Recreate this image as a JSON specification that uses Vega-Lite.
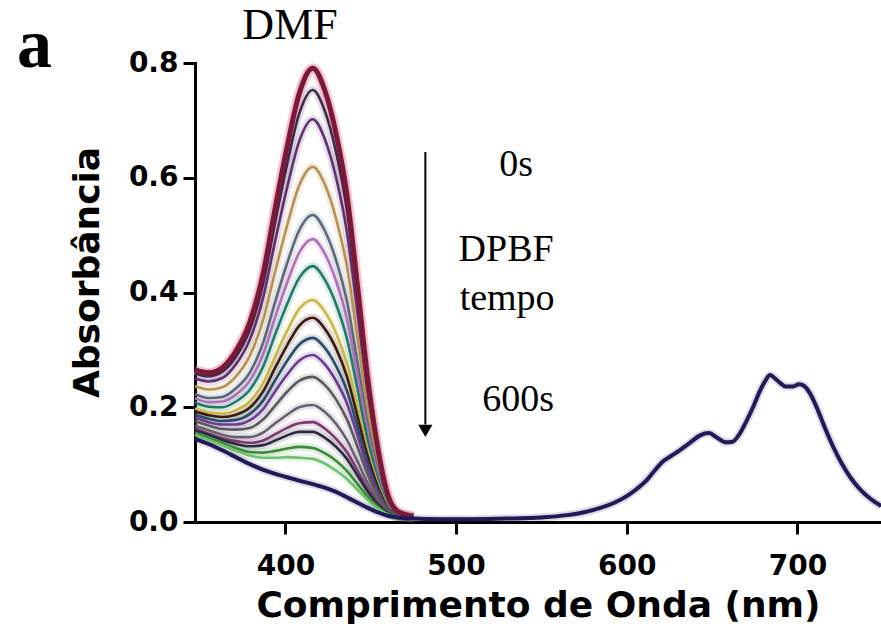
{
"$schema":"https://vega.github.io/schema/vega-lite/v6.json",
"width":686,"height":459,
"autosize":{"type":"none"},
"padding":{"left":195,"top":63,"right":0,"bottom":120},
"background":"white",
"config":{"view":{"stroke":null}},
"datasets":{
"spectra":[
{"s":"c1","nm":347,"A":0.265},{"s":"c1","nm":355,"A":0.260},{"s":"c1","nm":363,"A":0.269},{"s":"c1","nm":371,"A":0.298},{"s":"c1","nm":379,"A":0.347},{"s":"c1","nm":387,"A":0.434},{"s":"c1","nm":394,"A":0.547},{"s":"c1","nm":401,"A":0.654},{"s":"c1","nm":408,"A":0.746},{"s":"c1","nm":416,"A":0.791},{"s":"c1","nm":423,"A":0.753},{"s":"c1","nm":430,"A":0.672},{"s":"c1","nm":436,"A":0.571},{"s":"c1","nm":442,"A":0.417},{"s":"c1","nm":448,"A":0.255},{"s":"c1","nm":454,"A":0.131},{"s":"c1","nm":460,"A":0.047},{"s":"c1","nm":466,"A":0.018},{"s":"c1","nm":475,"A":0.010},
{"s":"c2","nm":347,"A":0.259},{"s":"c2","nm":355,"A":0.254},{"s":"c2","nm":363,"A":0.262},{"s":"c2","nm":371,"A":0.288},{"s":"c2","nm":379,"A":0.334},{"s":"c2","nm":387,"A":0.416},{"s":"c2","nm":394,"A":0.523},{"s":"c2","nm":401,"A":0.624},{"s":"c2","nm":408,"A":0.711},{"s":"c2","nm":416,"A":0.753},{"s":"c2","nm":423,"A":0.717},{"s":"c2","nm":430,"A":0.640},{"s":"c2","nm":436,"A":0.544},{"s":"c2","nm":442,"A":0.397},{"s":"c2","nm":448,"A":0.243},{"s":"c2","nm":454,"A":0.125},{"s":"c2","nm":460,"A":0.045},{"s":"c2","nm":466,"A":0.017},{"s":"c2","nm":475,"A":0.010},
{"s":"c3","nm":347,"A":0.250},{"s":"c3","nm":355,"A":0.245},{"s":"c3","nm":363,"A":0.251},{"s":"c3","nm":371,"A":0.275},{"s":"c3","nm":379,"A":0.317},{"s":"c3","nm":387,"A":0.392},{"s":"c3","nm":394,"A":0.490},{"s":"c3","nm":401,"A":0.583},{"s":"c3","nm":408,"A":0.663},{"s":"c3","nm":416,"A":0.702},{"s":"c3","nm":423,"A":0.668},{"s":"c3","nm":430,"A":0.596},{"s":"c3","nm":436,"A":0.506},{"s":"c3","nm":442,"A":0.370},{"s":"c3","nm":448,"A":0.227},{"s":"c3","nm":454,"A":0.117},{"s":"c3","nm":460,"A":0.043},{"s":"c3","nm":466,"A":0.017},{"s":"c3","nm":475,"A":0.010},
{"s":"c4","nm":347,"A":0.237},{"s":"c4","nm":355,"A":0.231},{"s":"c4","nm":363,"A":0.235},{"s":"c4","nm":371,"A":0.254},{"s":"c4","nm":379,"A":0.289},{"s":"c4","nm":387,"A":0.353},{"s":"c4","nm":394,"A":0.437},{"s":"c4","nm":401,"A":0.517},{"s":"c4","nm":408,"A":0.586},{"s":"c4","nm":416,"A":0.619},{"s":"c4","nm":423,"A":0.589},{"s":"c4","nm":430,"A":0.525},{"s":"c4","nm":436,"A":0.446},{"s":"c4","nm":442,"A":0.326},{"s":"c4","nm":448,"A":0.200},{"s":"c4","nm":454,"A":0.104},{"s":"c4","nm":460,"A":0.038},{"s":"c4","nm":466,"A":0.016},{"s":"c4","nm":475,"A":0.009},
{"s":"c5","nm":347,"A":0.223},{"s":"c5","nm":355,"A":0.216},{"s":"c5","nm":363,"A":0.218},{"s":"c5","nm":371,"A":0.233},{"s":"c5","nm":379,"A":0.260},{"s":"c5","nm":387,"A":0.313},{"s":"c5","nm":394,"A":0.384},{"s":"c5","nm":401,"A":0.451},{"s":"c5","nm":408,"A":0.508},{"s":"c5","nm":416,"A":0.535},{"s":"c5","nm":423,"A":0.508},{"s":"c5","nm":430,"A":0.453},{"s":"c5","nm":436,"A":0.385},{"s":"c5","nm":442,"A":0.282},{"s":"c5","nm":448,"A":0.174},{"s":"c5","nm":454,"A":0.091},{"s":"c5","nm":460,"A":0.034},{"s":"c5","nm":466,"A":0.014},{"s":"c5","nm":475,"A":0.009},
{"s":"c6","nm":347,"A":0.216},{"s":"c6","nm":355,"A":0.209},{"s":"c6","nm":363,"A":0.210},{"s":"c6","nm":371,"A":0.222},{"s":"c6","nm":379,"A":0.246},{"s":"c6","nm":387,"A":0.293},{"s":"c6","nm":394,"A":0.357},{"s":"c6","nm":401,"A":0.417},{"s":"c6","nm":408,"A":0.469},{"s":"c6","nm":416,"A":0.493},{"s":"c6","nm":423,"A":0.468},{"s":"c6","nm":430,"A":0.417},{"s":"c6","nm":436,"A":0.354},{"s":"c6","nm":442,"A":0.260},{"s":"c6","nm":448,"A":0.160},{"s":"c6","nm":454,"A":0.084},{"s":"c6","nm":460,"A":0.032},{"s":"c6","nm":466,"A":0.014},{"s":"c6","nm":475,"A":0.008},
{"s":"c7","nm":347,"A":0.208},{"s":"c7","nm":355,"A":0.201},{"s":"c7","nm":363,"A":0.200},{"s":"c7","nm":371,"A":0.210},{"s":"c7","nm":379,"A":0.230},{"s":"c7","nm":387,"A":0.271},{"s":"c7","nm":394,"A":0.327},{"s":"c7","nm":401,"A":0.380},{"s":"c7","nm":408,"A":0.425},{"s":"c7","nm":416,"A":0.446},{"s":"c7","nm":423,"A":0.423},{"s":"c7","nm":430,"A":0.377},{"s":"c7","nm":436,"A":0.320},{"s":"c7","nm":442,"A":0.235},{"s":"c7","nm":448,"A":0.146},{"s":"c7","nm":454,"A":0.077},{"s":"c7","nm":460,"A":0.030},{"s":"c7","nm":466,"A":0.013},{"s":"c7","nm":475,"A":0.008},
{"s":"c8","nm":347,"A":0.198},{"s":"c8","nm":355,"A":0.191},{"s":"c8","nm":363,"A":0.189},{"s":"c8","nm":371,"A":0.195},{"s":"c8","nm":379,"A":0.210},{"s":"c8","nm":387,"A":0.243},{"s":"c8","nm":394,"A":0.289},{"s":"c8","nm":401,"A":0.333},{"s":"c8","nm":408,"A":0.371},{"s":"c8","nm":416,"A":0.387},{"s":"c8","nm":423,"A":0.367},{"s":"c8","nm":430,"A":0.327},{"s":"c8","nm":436,"A":0.277},{"s":"c8","nm":442,"A":0.204},{"s":"c8","nm":448,"A":0.127},{"s":"c8","nm":454,"A":0.068},{"s":"c8","nm":460,"A":0.027},{"s":"c8","nm":466,"A":0.012},{"s":"c8","nm":475,"A":0.008},
{"s":"c9","nm":347,"A":0.193},{"s":"c9","nm":355,"A":0.186},{"s":"c9","nm":363,"A":0.183},{"s":"c9","nm":371,"A":0.187},{"s":"c9","nm":379,"A":0.199},{"s":"c9","nm":387,"A":0.228},{"s":"c9","nm":394,"A":0.269},{"s":"c9","nm":401,"A":0.308},{"s":"c9","nm":408,"A":0.342},{"s":"c9","nm":416,"A":0.356},{"s":"c9","nm":423,"A":0.337},{"s":"c9","nm":430,"A":0.300},{"s":"c9","nm":436,"A":0.254},{"s":"c9","nm":442,"A":0.187},{"s":"c9","nm":448,"A":0.117},{"s":"c9","nm":454,"A":0.063},{"s":"c9","nm":460,"A":0.025},{"s":"c9","nm":466,"A":0.012},{"s":"c9","nm":475,"A":0.008},
{"s":"c10","nm":347,"A":0.187},{"s":"c10","nm":355,"A":0.180},{"s":"c10","nm":363,"A":0.176},{"s":"c10","nm":371,"A":0.178},{"s":"c10","nm":379,"A":0.188},{"s":"c10","nm":387,"A":0.212},{"s":"c10","nm":394,"A":0.247},{"s":"c10","nm":401,"A":0.281},{"s":"c10","nm":408,"A":0.309},{"s":"c10","nm":416,"A":0.321},{"s":"c10","nm":423,"A":0.304},{"s":"c10","nm":430,"A":0.270},{"s":"c10","nm":436,"A":0.229},{"s":"c10","nm":442,"A":0.169},{"s":"c10","nm":448,"A":0.106},{"s":"c10","nm":454,"A":0.057},{"s":"c10","nm":460,"A":0.024},{"s":"c10","nm":466,"A":0.012},{"s":"c10","nm":475,"A":0.007},
{"s":"c11","nm":347,"A":0.182},{"s":"c11","nm":355,"A":0.174},{"s":"c11","nm":363,"A":0.170},{"s":"c11","nm":371,"A":0.170},{"s":"c11","nm":379,"A":0.177},{"s":"c11","nm":387,"A":0.197},{"s":"c11","nm":394,"A":0.228},{"s":"c11","nm":401,"A":0.257},{"s":"c11","nm":408,"A":0.281},{"s":"c11","nm":416,"A":0.291},{"s":"c11","nm":423,"A":0.275},{"s":"c11","nm":430,"A":0.244},{"s":"c11","nm":436,"A":0.207},{"s":"c11","nm":442,"A":0.153},{"s":"c11","nm":448,"A":0.096},{"s":"c11","nm":454,"A":0.052},{"s":"c11","nm":460,"A":0.022},{"s":"c11","nm":466,"A":0.011},{"s":"c11","nm":475,"A":0.007},
{"s":"c12","nm":347,"A":0.176},{"s":"c12","nm":355,"A":0.168},{"s":"c12","nm":363,"A":0.162},{"s":"c12","nm":371,"A":0.161},{"s":"c12","nm":379,"A":0.164},{"s":"c12","nm":387,"A":0.179},{"s":"c12","nm":394,"A":0.203},{"s":"c12","nm":401,"A":0.227},{"s":"c12","nm":408,"A":0.246},{"s":"c12","nm":416,"A":0.253},{"s":"c12","nm":423,"A":0.239},{"s":"c12","nm":430,"A":0.212},{"s":"c12","nm":436,"A":0.179},{"s":"c12","nm":442,"A":0.133},{"s":"c12","nm":448,"A":0.084},{"s":"c12","nm":454,"A":0.046},{"s":"c12","nm":460,"A":0.020},{"s":"c12","nm":466,"A":0.011},{"s":"c12","nm":475,"A":0.007},
{"s":"c13","nm":347,"A":0.168},{"s":"c13","nm":355,"A":0.160},{"s":"c13","nm":363,"A":0.152},{"s":"c13","nm":371,"A":0.148},{"s":"c13","nm":379,"A":0.148},{"s":"c13","nm":387,"A":0.156},{"s":"c13","nm":394,"A":0.172},{"s":"c13","nm":401,"A":0.187},{"s":"c13","nm":408,"A":0.200},{"s":"c13","nm":416,"A":0.204},{"s":"c13","nm":423,"A":0.192},{"s":"c13","nm":430,"A":0.170},{"s":"c13","nm":436,"A":0.143},{"s":"c13","nm":442,"A":0.107},{"s":"c13","nm":448,"A":0.069},{"s":"c13","nm":454,"A":0.039},{"s":"c13","nm":460,"A":0.018},{"s":"c13","nm":466,"A":0.010},{"s":"c13","nm":475,"A":0.007},
{"s":"c14","nm":347,"A":0.163},{"s":"c14","nm":355,"A":0.154},{"s":"c14","nm":363,"A":0.146},{"s":"c14","nm":371,"A":0.141},{"s":"c14","nm":379,"A":0.138},{"s":"c14","nm":387,"A":0.142},{"s":"c14","nm":394,"A":0.153},{"s":"c14","nm":401,"A":0.164},{"s":"c14","nm":408,"A":0.172},{"s":"c14","nm":416,"A":0.174},{"s":"c14","nm":423,"A":0.163},{"s":"c14","nm":430,"A":0.144},{"s":"c14","nm":436,"A":0.122},{"s":"c14","nm":442,"A":0.091},{"s":"c14","nm":448,"A":0.059},{"s":"c14","nm":454,"A":0.034},{"s":"c14","nm":460,"A":0.016},{"s":"c14","nm":466,"A":0.009},{"s":"c14","nm":475,"A":0.007},
{"s":"c15","nm":347,"A":0.160},{"s":"c15","nm":355,"A":0.152},{"s":"c15","nm":363,"A":0.143},{"s":"c15","nm":371,"A":0.136},{"s":"c15","nm":379,"A":0.132},{"s":"c15","nm":387,"A":0.134},{"s":"c15","nm":394,"A":0.142},{"s":"c15","nm":401,"A":0.151},{"s":"c15","nm":408,"A":0.157},{"s":"c15","nm":416,"A":0.157},{"s":"c15","nm":423,"A":0.147},{"s":"c15","nm":430,"A":0.130},{"s":"c15","nm":436,"A":0.110},{"s":"c15","nm":442,"A":0.082},{"s":"c15","nm":448,"A":0.054},{"s":"c15","nm":454,"A":0.031},{"s":"c15","nm":460,"A":0.016},{"s":"c15","nm":466,"A":0.009},{"s":"c15","nm":475,"A":0.007},
{"s":"c16","nm":347,"A":0.155},{"s":"c16","nm":355,"A":0.147},{"s":"c16","nm":363,"A":0.138},{"s":"c16","nm":371,"A":0.129},{"s":"c16","nm":379,"A":0.122},{"s":"c16","nm":387,"A":0.121},{"s":"c16","nm":394,"A":0.124},{"s":"c16","nm":401,"A":0.128},{"s":"c16","nm":408,"A":0.131},{"s":"c16","nm":416,"A":0.129},{"s":"c16","nm":423,"A":0.120},{"s":"c16","nm":430,"A":0.106},{"s":"c16","nm":436,"A":0.089},{"s":"c16","nm":442,"A":0.067},{"s":"c16","nm":448,"A":0.045},{"s":"c16","nm":454,"A":0.027},{"s":"c16","nm":460,"A":0.014},{"s":"c16","nm":466,"A":0.009},{"s":"c16","nm":475,"A":0.006},
{"s":"c17","nm":347,"A":0.152},{"s":"c17","nm":355,"A":0.143},{"s":"c17","nm":363,"A":0.134},{"s":"c17","nm":371,"A":0.124},{"s":"c17","nm":379,"A":0.116},{"s":"c17","nm":387,"A":0.112},{"s":"c17","nm":394,"A":0.112},{"s":"c17","nm":401,"A":0.113},{"s":"c17","nm":408,"A":0.112},{"s":"c17","nm":416,"A":0.110},{"s":"c17","nm":423,"A":0.102},{"s":"c17","nm":430,"A":0.089},{"s":"c17","nm":436,"A":0.075},{"s":"c17","nm":442,"A":0.057},{"s":"c17","nm":448,"A":0.039},{"s":"c17","nm":454,"A":0.024},{"s":"c17","nm":460,"A":0.013},{"s":"c17","nm":466,"A":0.009},{"s":"c17","nm":475,"A":0.006},
{"s":"c18","nm":347,"A":0.145},{"s":"c18","nm":355,"A":0.136},{"s":"c18","nm":363,"A":0.125},{"s":"c18","nm":371,"A":0.113},{"s":"c18","nm":379,"A":0.101},{"s":"c18","nm":387,"A":0.091},{"s":"c18","nm":394,"A":0.084},{"s":"c18","nm":401,"A":0.078},{"s":"c18","nm":408,"A":0.072},{"s":"c18","nm":416,"A":0.066},{"s":"c18","nm":423,"A":0.060},{"s":"c18","nm":430,"A":0.052},{"s":"c18","nm":436,"A":0.043},{"s":"c18","nm":442,"A":0.034},{"s":"c18","nm":448,"A":0.025},{"s":"c18","nm":454,"A":0.017},{"s":"c18","nm":460,"A":0.011},{"s":"c18","nm":466,"A":0.008},{"s":"c18","nm":475,"A":0.006},
{"s":"c18","nm":490,"A":0.005},{"s":"c18","nm":510,"A":0.005},{"s":"c18","nm":530,"A":0.006},{"s":"c18","nm":550,"A":0.008},{"s":"c18","nm":565,"A":0.012},{"s":"c18","nm":575,"A":0.017},{"s":"c18","nm":585,"A":0.025},{"s":"c18","nm":593,"A":0.034},{"s":"c18","nm":600,"A":0.045},{"s":"c18","nm":606,"A":0.058},{"s":"c18","nm":612,"A":0.074},{"s":"c18","nm":617,"A":0.092},{"s":"c18","nm":621,"A":0.105},{"s":"c18","nm":626,"A":0.115},{"s":"c18","nm":631,"A":0.125},{"s":"c18","nm":637,"A":0.138},{"s":"c18","nm":643,"A":0.151},{"s":"c18","nm":648,"A":0.155},{"s":"c18","nm":653,"A":0.147},{"s":"c18","nm":658,"A":0.139},{"s":"c18","nm":662,"A":0.140},{"s":"c18","nm":666,"A":0.153},{"s":"c18","nm":670,"A":0.175},{"s":"c18","nm":674,"A":0.200},{"s":"c18","nm":678,"A":0.228},{"s":"c18","nm":681,"A":0.245},{"s":"c18","nm":684,"A":0.256},{"s":"c18","nm":687,"A":0.250},{"s":"c18","nm":690,"A":0.242},{"s":"c18","nm":693,"A":0.236},{"s":"c18","nm":697,"A":0.236},{"s":"c18","nm":701,"A":0.240},{"s":"c18","nm":704,"A":0.237},{"s":"c18","nm":708,"A":0.221},{"s":"c18","nm":712,"A":0.195},{"s":"c18","nm":716,"A":0.165},{"s":"c18","nm":721,"A":0.131},{"s":"c18","nm":726,"A":0.102},{"s":"c18","nm":731,"A":0.078},{"s":"c18","nm":737,"A":0.056},{"s":"c18","nm":743,"A":0.040},{"s":"c18","nm":749,"A":0.028}
],
"labels":[
{"nm":535.2,"A":0.622,"t":"0s"},
{"nm":529.3,"A":0.474,"t":"DPBF"},
{"nm":529.9,"A":0.388,"t":"tempo"},
{"nm":536.3,"A":0.213,"t":"600s"}
],
"title":[{"nm":402.7,"A":0.864,"t":"DMF"}],
"panel":[{"nm":253,"A":0.83,"t":"a"}],
"arrow":[{"nm":482,"A":0.645,"A2":0.17}],
"head":[{"nm":482,"A":0.159}]
},
"encoding":{
"x":{"field":"nm","type":"quantitative","scale":{"domain":[347,749],"nice":false,"zero":false},
"axis":{"title":"Comprimento de Onda (nm)","values":[400,500,600,700],"grid":false,"domainColor":"black","domainWidth":3,"domainCap":"square","tickColor":"black","tickWidth":3,"tickSize":12,"labelFont":"DejaVu Sans","labelFontWeight":"bold","labelFontSize":28,"labelColor":"black","labelPadding":18,"titleFont":"DejaVu Sans","titleFontWeight":"bold","titleFontSize":36,"titleColor":"black","titlePadding":8}},
"y":{"field":"A","type":"quantitative","scale":{"domain":[0,0.8],"nice":false},
"axis":{"title":"Absorbância","values":[0,0.2,0.4,0.6,0.8],"format":".1f","grid":false,"domainColor":"black","domainWidth":3,"domainCap":"square","tickColor":"black","tickWidth":3,"tickSize":12,"labelFont":"DejaVu Sans","labelFontWeight":"bold","labelFontSize":28,"labelColor":"black","labelPadding":5,"titleFont":"DejaVu Sans","titleFontWeight":"bold","titleFontSize":36,"titleColor":"black","titlePadding":22,"titleY":209}}
},
"layer":[
{"data":{"name":"spectra"},"mark":{"type":"line","interpolate":"monotone","strokeWidth":8,"opacity":0.16},
"encoding":{"color":{"field":"s","type":"nominal","legend":null,
"scale":{"domain":["c1","c2","c3","c4","c5","c6","c7","c8","c9","c10","c11","c12","c13","c14","c15","c16","c17","c18"],
"range":["#7a1838","#3c2848","#5c3070","#b89050","#5a6878","#b070b8","#1f7a6a","#c8b84a","#3a1a10","#2a4a68","#6a3a90","#5a5a5a","#686070","#7a3a70","#2a2a40","#3a8a3a","#70c070","#1a1650"]}}}},
{"data":{"name":"spectra"},"transform":[{"filter":"datum.s == 'c1'"}],"mark":{"type":"line","interpolate":"monotone","strokeWidth":10,"color":"#f4a8bc","opacity":0.6},"encoding":{}},
{"data":{"name":"spectra"},"mark":{"type":"line","interpolate":"monotone","strokeWidth":2.6},
"encoding":{"color":{"field":"s","type":"nominal","legend":null}}},
{"data":{"name":"spectra"},"transform":[{"filter":"datum.s == 'c1'"}],"mark":{"type":"line","interpolate":"monotone","strokeWidth":5,"color":"#7a1838"},"encoding":{}},
{"data":{"name":"spectra"},"transform":[{"filter":"datum.s == 'c18'"}],"mark":{"type":"line","interpolate":"monotone","strokeWidth":4,"color":"#221a58"},"encoding":{}},
{"data":{"name":"arrow"},"mark":{"type":"rule","strokeWidth":2,"color":"black"},"encoding":{"y2":{"field":"A2"}}},
{"data":{"name":"head"},"mark":{"type":"point","shape":"triangle-down","size":200,"filled":true,"color":"black","opacity":1},"encoding":{}},
{"data":{"name":"labels"},"mark":{"type":"text","font":"Liberation Serif","fontSize":38,"color":"black","align":"center","baseline":"middle"},"encoding":{"text":{"field":"t"}}},
{"data":{"name":"title"},"mark":{"type":"text","font":"Liberation Serif","fontSize":44,"color":"black","align":"center","baseline":"middle"},"encoding":{"text":{"field":"t"}}},
{"data":{"name":"panel"},"mark":{"type":"text","font":"Liberation Serif","fontWeight":"bold","fontSize":70,"color":"black","align":"center","baseline":"middle"},"encoding":{"text":{"field":"t"}}}
]
}
